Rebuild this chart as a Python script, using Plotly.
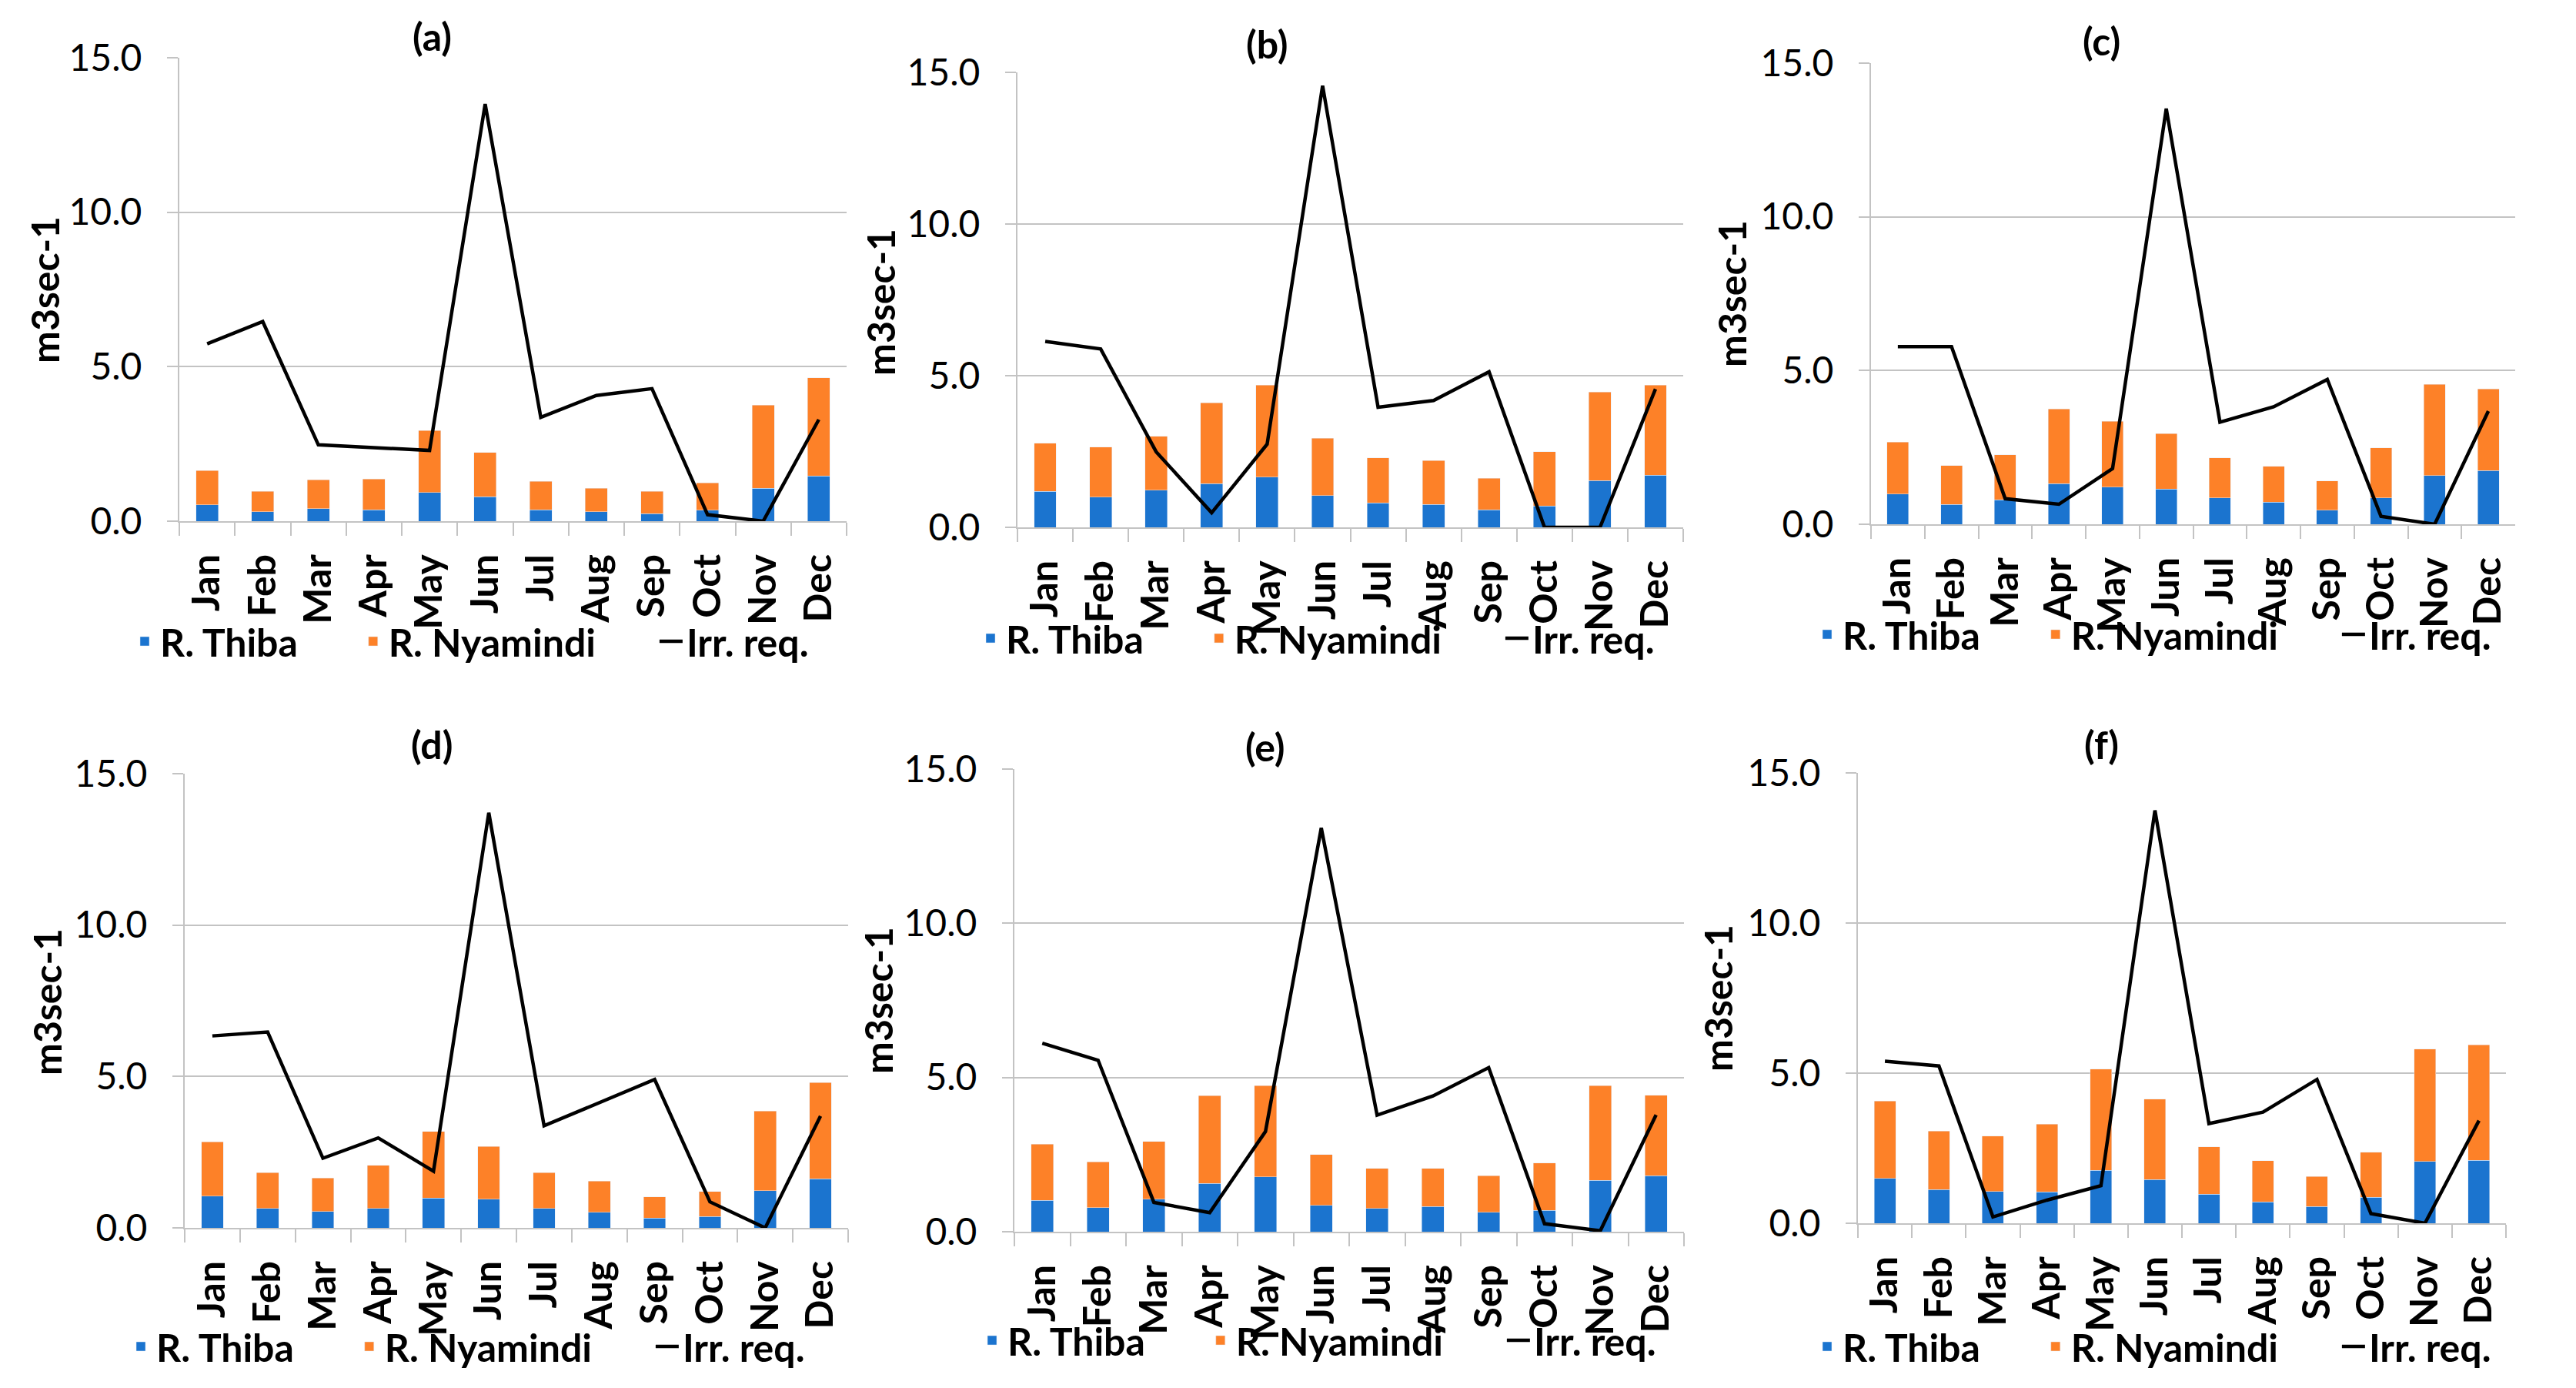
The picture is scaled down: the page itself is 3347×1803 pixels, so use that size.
import plotly.graph_objects as go

months = ["Jan", "Feb", "Mar", "Apr", "May", "Jun", "Jul", "Aug", "Sep", "Oct", "Nov", "Dec"]
panel_labels = ["(a)", "(b)", "(c)", "(d)", "(e)", "(f)"]
y_ticks = [0, 5, 10, 15]
series_names = ["R. Thiba", "R. Nyamindi", "Irr. req."]

thiba_a = [0.53, 0.31, 0.40, 0.37, 0.93, 0.79, 0.37, 0.31, 0.24, 0.36, 1.07, 1.46]
nyamindi_a = [1.11, 0.65, 0.94, 0.99, 2.00, 1.44, 0.92, 0.76, 0.72, 0.88, 2.69, 3.18]
irr_a = [5.74, 6.46, 2.47, 2.39, 2.29, 13.50, 3.36, 4.07, 4.29, 0.21, 0.00, 3.29]

thiba_b = [1.19, 0.99, 1.22, 1.44, 1.65, 1.05, 0.80, 0.76, 0.58, 0.70, 1.54, 1.72]
nyamindi_b = [1.58, 1.66, 1.78, 2.67, 3.04, 1.89, 1.49, 1.44, 1.04, 1.80, 2.92, 2.97]
irr_b = [6.13, 5.88, 2.49, 0.48, 2.74, 14.56, 3.96, 4.18, 5.13, 0.00, 0.00, 4.56]

thiba_c = [0.98, 0.65, 0.79, 1.32, 1.21, 1.14, 0.86, 0.72, 0.46, 0.86, 1.59, 1.75]
nyamindi_c = [1.69, 1.26, 1.47, 2.43, 2.14, 1.81, 1.30, 1.16, 0.95, 1.63, 2.96, 2.65]
irr_c = [5.78, 5.78, 0.83, 0.65, 1.81, 13.52, 3.32, 3.82, 4.71, 0.26, 0.00, 3.68]

thiba_d = [1.05, 0.64, 0.54, 0.64, 0.98, 0.95, 0.64, 0.51, 0.32, 0.38, 1.23, 1.62]
nyamindi_d = [1.79, 1.19, 1.10, 1.42, 2.21, 1.74, 1.19, 1.04, 0.70, 0.82, 2.63, 3.18]
irr_d = [6.34, 6.47, 2.30, 2.97, 1.87, 13.71, 3.37, 4.13, 4.90, 0.86, 0.00, 3.69]

thiba_e = [1.02, 0.78, 1.05, 1.57, 1.78, 0.86, 0.76, 0.82, 0.63, 0.69, 1.67, 1.81]
nyamindi_e = [1.82, 1.49, 1.88, 2.84, 2.95, 1.64, 1.29, 1.23, 1.19, 1.54, 3.06, 2.62]
irr_e = [6.11, 5.56, 0.95, 0.62, 3.25, 13.09, 3.78, 4.40, 5.32, 0.26, 0.03, 3.79]

thiba_f = [1.50, 1.12, 1.06, 1.05, 1.76, 1.45, 0.97, 0.71, 0.56, 0.87, 2.06, 2.09]
nyamindi_f = [2.57, 1.95, 1.85, 2.25, 3.37, 2.68, 1.57, 1.37, 1.00, 1.50, 3.74, 3.85]
irr_f = [5.40, 5.24, 0.21, 0.77, 1.25, 13.75, 3.32, 3.70, 4.79, 0.32, 0.00, 3.42]

panels = [
    (thiba_a, nyamindi_a, irr_a),
    (thiba_b, nyamindi_b, irr_b),
    (thiba_c, nyamindi_c, irr_c),
    (thiba_d, nyamindi_d, irr_d),
    (thiba_e, nyamindi_e, irr_e),
    (thiba_f, nyamindi_f, irr_f),
]

W, H = 3347, 1803
OFF = 8  # page body margin offset compensation
# plot-area pixel boxes (target screenshot px): left, right, top, bottom
boxes = [
    (233, 1100, 75, 677),
    (1322, 2187, 94, 685),
    (2431, 3268, 82, 681),
    (240, 1102, 1005, 1595),
    (1318, 2188, 999, 1600),
    (2414, 3256, 1004, 1589),
]
title_pos = [(561, 47), (1646, 57), (2730, 53), (561, 967), (1644, 970), (2730, 967)]
ytitle_pos = [(58, 377), (1144, 393), (2250, 382), (61, 1302), (1141, 1300), (2232, 1297)]
legend_pos = [(612, 833), (1711, 829), (2798, 824), (607, 1749), (1713, 1741), (2798, 1749)]

BLUE = "#1b74cf"
ORANGE = "#fd8128"
GRID = "#c3c3c3"
FONT = "Lato"
PAD = "\u00a0" * 6


def px_x(v):
    return (v - OFF) / W


def px_y(v):
    return 1 - (v - OFF) / H


fig = go.Figure()
layout = dict(
    width=W, height=H,
    margin=dict(l=0, r=0, t=0, b=0, autoexpand=False),
    paper_bgcolor="white", plot_bgcolor="white",
    barmode="stack", bargap=0.6,
    font=dict(family=FONT, size=48, color="black"),
    annotations=[],
)

for i, (th, ny, irr) in enumerate(panels):
    n = i + 1
    xa = "x" if n == 1 else f"x{n}"
    ya = "y" if n == 1 else f"y{n}"
    lg = "legend" if n == 1 else f"legend{n}"
    fig.add_trace(go.Bar(x=months, y=th, name=series_names[0] + PAD, marker_color=BLUE,
                         xaxis=xa, yaxis=ya, legend=lg, offsetgroup=str(n)))
    fig.add_trace(go.Bar(x=months, y=ny, name=series_names[1] + PAD, marker_color=ORANGE,
                         xaxis=xa, yaxis=ya, legend=lg, offsetgroup=str(n)))
    fig.add_trace(go.Scatter(x=months, y=irr, name=series_names[2], mode="lines",
                             line=dict(color="black", width=4.5),
                             xaxis=xa, yaxis=ya, legend=lg, cliponaxis=False))
    l, r, t, b = boxes[i]
    xkey = "xaxis" if n == 1 else f"xaxis{n}"
    ykey = "yaxis" if n == 1 else f"yaxis{n}"
    layout[xkey] = dict(
        domain=[px_x(l), px_x(r)], anchor=ya, type="category", automargin=False,
        showgrid=False, showline=True, linecolor=GRID, linewidth=2,
        ticks="outside", tickson="boundaries", ticklen=17, tickcolor=GRID, tickwidth=2,
        tickangle=-90, ticklabelstandoff=21,
        tickfont=dict(family=FONT, size=50, color="black", weight="bold"),
        fixedrange=True,
    )
    layout[ykey] = dict(
        domain=[px_y(b), px_y(t)], anchor=xa, range=[0, 15], automargin=False,
        tickvals=y_ticks, tickformat=".1f",
        showgrid=True, gridcolor=GRID, gridwidth=2,
        showline=True, linecolor=GRID, linewidth=2,
        ticks="outside", ticklen=14, tickcolor=GRID, tickwidth=2,
        ticklabelstandoff=23,
        tickfont=dict(family=FONT, size=48, color="black"),
        zeroline=False, fixedrange=True,
    )
    lx, ly = legend_pos[i]
    layout[lg] = dict(
        orientation="h", x=px_x(lx), y=px_y(ly), xanchor="center", yanchor="middle",
        font=dict(family=FONT, size=50, color="black", weight="bold"),
        bgcolor="rgba(0,0,0,0)", traceorder="normal",
    )
    tx, ty = title_pos[i]
    layout["annotations"].append(dict(
        text=panel_labels[i], x=px_x(tx), y=px_y(ty), xref="paper", yref="paper",
        xanchor="center", yanchor="middle", showarrow=False,
        font=dict(family=FONT, size=50, color="black", weight="bold"),
    ))
    yx, yy = ytitle_pos[i]
    layout["annotations"].append(dict(
        text="m3sec-1", x=px_x(yx), y=px_y(yy), xref="paper", yref="paper",
        xanchor="center", yanchor="middle", showarrow=False, textangle=-90,
        font=dict(family=FONT, size=50, color="black", weight="bold"),
    ))

fig.update_layout(**layout)
fig.write_html("out.html")
